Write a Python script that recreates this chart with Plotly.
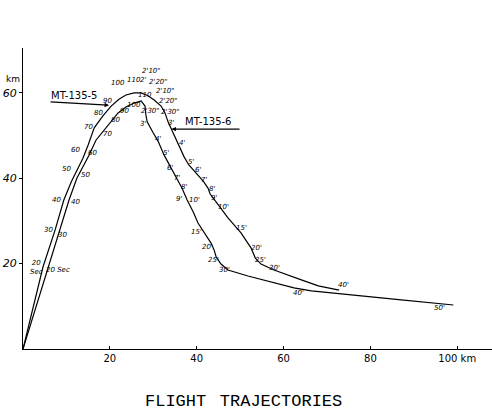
import plotly.graph_objects as go

# ---- data (km) ----
# outer trajectory (left ascent, right descent)
outer_x = [0, 4.6, 7.4, 9.4, 11.1, 12.7, 13.8, 15.0, 16.4, 18.4, 20.3, 22.1, 23.7, 25.6, 27.2,
           28.8, 30.2, 31.8, 32.7, 33.4, 34.6, 35.7, 37.1, 38.2, 39.9, 41.5, 42.6, 43.1, 44.5,
           47.2, 50.2, 52.5, 53.5, 54.8, 57.8, 60.1, 64.1, 68.0, 71.0, 72.8]
outer_y = [0, 19.2, 27.9, 34.9, 39.1, 42.4, 44.7, 47.8, 51.8, 54.6, 56.9, 58.5, 59.5, 60.0, 60.0,
           59.3, 58.3, 56.9, 55.3, 53.2, 50.6, 48.2, 45.0, 43.1, 41.2, 39.3, 37.7, 36.3, 34.4,
           30.7, 27.2, 23.7, 21.3, 19.9, 18.5, 17.6, 16.2, 14.8, 14.1, 13.8]

# inner trajectory (right ascent, left descent)
inner_x = [0, 5.8, 8.5, 10.6, 12.4, 14.1, 15.2, 16.8, 18.7, 20.3, 21.9, 23.7, 25.6, 27.2, 28.1,
           28.3, 28.6, 30.0, 31.1, 32.5, 34.1, 35.5, 36.6, 37.8, 39.2, 40.3, 41.7, 43.3, 44.0,
           44.5, 45.6, 47.2, 51.8, 57.1, 62.4, 66.4, 71.0, 77.9, 87.1, 99.1]
inner_y = [0, 19.2, 27.9, 34.9, 40.0, 43.1, 45.4, 48.9, 51.3, 53.4, 55.3, 56.7, 57.6, 58.1, 56.9,
           54.8, 53.2, 50.6, 48.7, 45.4, 42.4, 40.0, 37.7, 34.9, 32.1, 29.5, 27.2, 24.8, 23.2,
           21.5, 19.9, 18.5, 17.1, 15.7, 14.3, 13.6, 13.1, 12.4, 11.5, 10.3]

# time labels along outer trajectory
outer_lbl = ["20<br>Sec", "30", "40", "50", "60", "70", "80", "90", "100", "110", "2'", "2'10\"",
             "2'20\"", "2'10\"", "2'20\"", "2'30\"", "3'", "4'", "5'", "6'", "7'", "8'", "9'",
             "10'", "15'", "20'", "25'", "30'", "40'"]
outer_lx = [3.0, 5.8, 7.6, 10.1, 12.0, 15.0, 17.3, 19.4, 21.9, 25.6, 27.6, 29.5, 31.3, 32.7,
            33.6, 33.9, 34.1, 36.6, 38.7, 40.3, 41.7, 43.5, 44.0, 46.1, 50.2, 53.7, 54.6, 57.8, 73.7]
outer_ly = [19.2, 27.9, 34.9, 42.2, 46.6, 52.0, 55.3, 58.1, 62.3, 63.0, 63.0, 65.1, 62.5, 60.4,
            58.1, 55.5, 52.9, 48.2, 43.8, 41.9, 39.6, 37.5, 35.4, 33.3, 28.3, 23.7, 20.8, 19.0, 15.0]

# time labels along inner trajectory
inner_lbl = ["20 Sec", "30", "40", "50", "60", "70", "80", "90", "100", "110", "2'30\"", "3'",
             "4'", "5'", "6'", "7'", "8'", "9'", "10'", "15'", "20'", "25'", "30'", "40'", "50'"]
inner_lx = [8.1, 9.2, 12.2, 14.5, 15.9, 19.4, 21.4, 23.3, 25.6, 28.0, 29.3, 27.6, 31.1, 32.9,
            33.9, 35.5, 37.1, 35.9, 39.4, 39.9, 42.6, 43.8, 46.3, 63.4, 95.9]
inner_ly = [18.5, 26.7, 34.4, 40.7, 45.9, 50.4, 53.6, 55.7, 57.2, 59.6, 55.8, 52.7, 49.2, 45.9,
            42.4, 40.0, 37.9, 35.1, 34.9, 27.4, 23.9, 20.8, 18.5, 13.1, 9.6]

x_ticks = [20, 40, 60, 80, 100]
x_ticktext = ["20", "40", "60", "80", "100 km"]
y_ticks = [20, 40, 60]
y_ticktext = ["20", "40", "60"]

fig = go.Figure()
line_style = dict(color="black", width=1.2)
fig.add_trace(go.Scatter(x=outer_x, y=outer_y, mode="lines", line=line_style,
                         name="outer", showlegend=False, hoverinfo="skip"))
fig.add_trace(go.Scatter(x=inner_x, y=inner_y, mode="lines", line=line_style,
                         name="inner", showlegend=False, hoverinfo="skip"))

small = dict(family="DejaVu Sans", size=7, color="black", style="italic")
ann = []
for t, x, y in zip(outer_lbl, outer_lx, outer_ly):
    ann.append(dict(x=x, y=y, text=t, showarrow=False, font=small, xanchor="center", yanchor="middle"))
for t, x, y in zip(inner_lbl, inner_lx, inner_ly):
    ann.append(dict(x=x, y=y, text=t, showarrow=False, font=small, xanchor="center", yanchor="middle"))

# MT labels with arrows
lbl_font = dict(family="DejaVu Sans", size=10, color="black")
ann.append(dict(x=19.8, y=57.1, ax=6.0, ay=57.9, axref="x", ayref="y", text="",
                showarrow=True, arrowhead=2, arrowsize=0.8, arrowwidth=1.1, arrowcolor="black"))
ann.append(dict(x=11.8, y=59.4, text="MT-135-5", showarrow=False, font=lbl_font))
ann.append(dict(x=34.2, y=51.5, ax=50.2, ay=51.5, axref="x", ayref="y", text="",
                showarrow=True, arrowhead=2, arrowsize=0.8, arrowwidth=1.1, arrowcolor="black"))
ann.append(dict(x=42.6, y=53.3, text="MT-135-6", showarrow=False, font=lbl_font))

# y unit
ann.append(dict(xref="paper", x=0, y=63.2, text="km", showarrow=False, xanchor="right",
                xshift=-1, font=dict(family="DejaVu Sans", size=9, color="black")))
# title
ann.append(dict(xref="paper", yref="paper", x=0.471, y=-0.176, text="FLIGHT\u2009 TRAJECTORIES",
                showarrow=False, xanchor="center", yanchor="middle",
                font=dict(family="Liberation Mono", size=17, color="black")))

fig.update_layout(
    width=492, height=415,
    margin=dict(l=23, r=0, t=48, b=66),
    paper_bgcolor="white", plot_bgcolor="white",
    annotations=ann,
    xaxis=dict(range=[0, 108], tickvals=x_ticks, ticktext=x_ticktext, showgrid=False,
               zeroline=False, showline=True, linecolor="black", linewidth=1.3,
               ticks="inside", ticklen=3, tickcolor="black",
               tickfont=dict(family="DejaVu Sans", size=10, color="black")),
    yaxis=dict(range=[0, 70.5], tickvals=y_ticks, ticktext=y_ticktext, showgrid=False,
               zeroline=False, showline=True, linecolor="black", linewidth=1.3,
               ticks="outside", ticklen=3, tickcolor="black",
               tickfont=dict(family="DejaVu Sans", size=11, color="black", style="italic")),
)

fig.write_html("out.html")
